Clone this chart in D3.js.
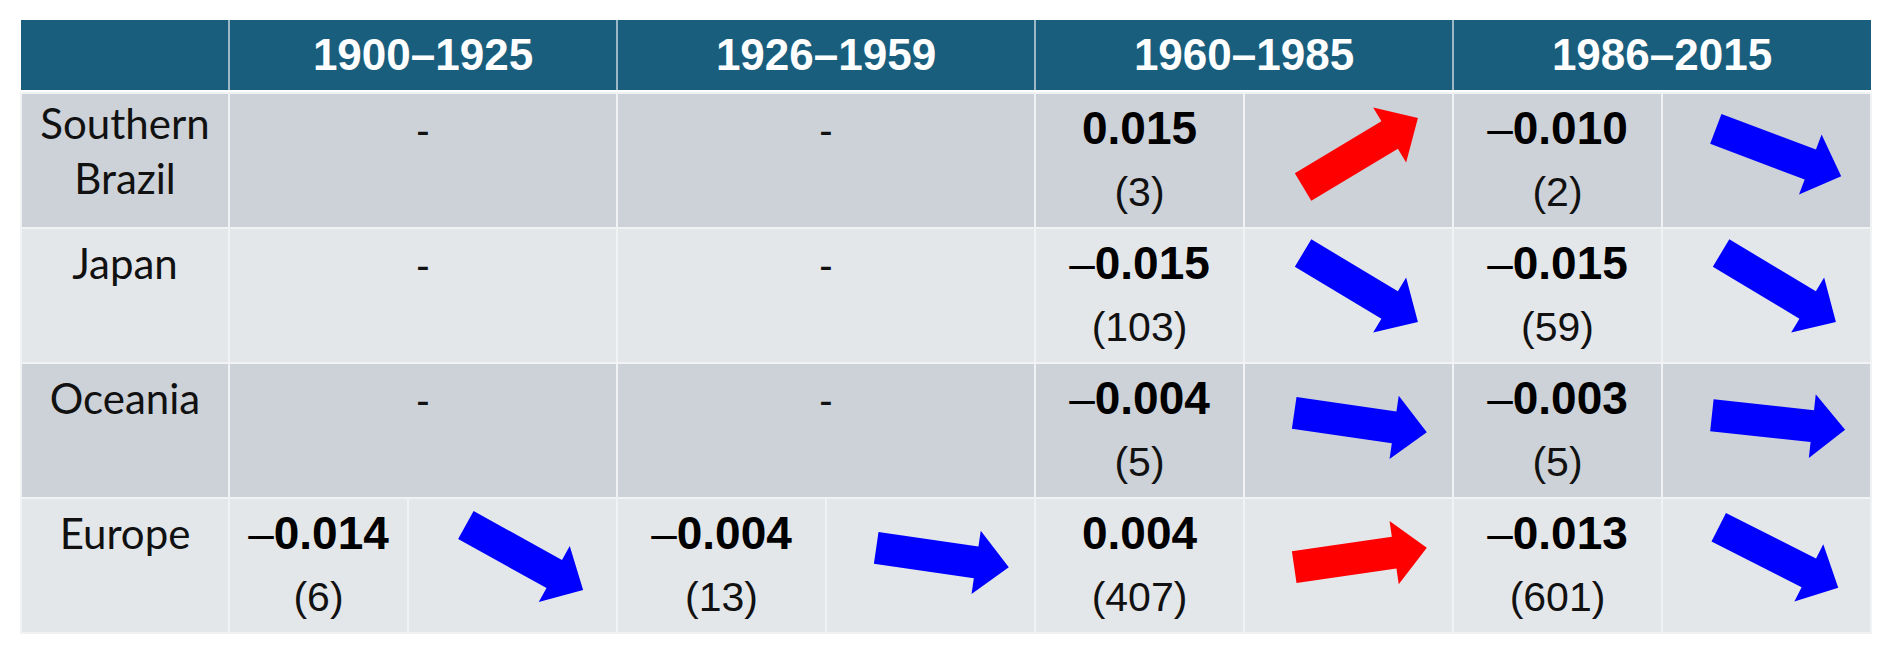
<!DOCTYPE html>
<html>
<head>
<meta charset="utf-8">
<script src="https://cdn.jsdelivr.net/npm/d3@7"></script>
<style>
    body { margin: 0; background: #fff; }
    svg { display: block; }
</style>
</head>
<body>
<svg id="chart" width="1892" height="653"></svg>
<script>
'use strict';

var periods = ['1900–1925', '1926–1959', '1960–1985', '1986–2015'];
var regions = ['Southern Brazil', 'Japan', 'Oceania', 'Europe'];

// trend per period (null = no data) and number of series in brackets
var southernBrazilTrend = [null, null, 0.015, -0.010];
var southernBrazilCount = [null, null, 3, 2];
var japanTrend = [null, null, -0.015, -0.015];
var japanCount = [null, null, 103, 59];
var oceaniaTrend = [null, null, -0.004, -0.003];
var oceaniaCount = [null, null, 5, 5];
var europeTrend = [-0.014, -0.004, 0.004, -0.013];
var europeCount = [6, 13, 407, 601];

var trends = [southernBrazilTrend, japanTrend, oceaniaTrend, europeTrend];
var counts = [southernBrazilCount, japanCount, oceaniaCount, europeCount];

(function() {

    var svg = d3.select('#chart');

    var tableLeft = 21;
    var tableRight = 1871;
    var labelRight = 229;
    var headerTop = 20;
    var headerBottom = 90;
    var arrowCellWidth = 209;

    var headerColor = '#1a5e7e';
    var rowColors = ['#cdd1d8', '#e4e7ea'];
    var lineColor = '#f1f2f4';

    var numFont = '"Liberation Sans", Arial, sans-serif';
    var labelFont = 'Lato, "Open Sans", sans-serif';

    // column edges: first period column is narrower than the others
    var colEdges = [labelRight, 617, 1035, 1453, tableRight];

    var x = d3.scaleOrdinal()
        .domain(periods)
        .range(colEdges.slice(0, 4));

    var colWidth = function(p) {
        var i = periods.indexOf(p);
        return colEdges[i + 1] - colEdges[i];
    };

    var y = d3.scaleBand()
        .domain(regions)
        .range([93, 633]);

    var angle = d3.scaleLinear()
        .domain([-0.015, 0.015])
        .range([31, -31]);

    var formatTrend = d3.format('.3f');

    // ---- header ----
    svg.append('rect')
        .attr('x', tableLeft)
        .attr('y', headerTop)
        .attr('width', tableRight - tableLeft)
        .attr('height', headerBottom - headerTop)
        .attr('fill', headerColor);

    svg.selectAll('.head-sep')
        .data(periods)
        .enter().append('line')
        .attr('class', 'head-sep')
        .attr('x1', function(d) { return x(d); })
        .attr('x2', function(d) { return x(d); })
        .attr('y1', headerTop)
        .attr('y2', headerBottom)
        .attr('stroke', '#c9d6de')
        .attr('stroke-width', 1.5);

    svg.selectAll('.head-text')
        .data(periods)
        .enter().append('text')
        .attr('class', 'head-text')
        .attr('x', function(d) { return x(d) + colWidth(d) / 2; })
        .attr('y', 70)
        .attr('text-anchor', 'middle')
        .attr('font-family', numFont)
        .attr('font-weight', 'bold')
        .attr('font-size', 44)
        .attr('fill', '#fff')
        .text(function(d) { return d; });

    // ---- rows ----
    var arrowPath = function() {
        var L = 67, sw = 16, hw = 32, hb = 34;
        return d3.line()([
            [-L, -sw], [hb, -sw], [hb, -hw], [L, 0],
            [hb, hw], [hb, sw], [-L, sw]
        ]) + 'Z';
    };

    regions.forEach(function(region, ri) {

        var top = y(region);
        var h = y.bandwidth();
        var fill = rowColors[ri % 2];

        var row = svg.append('g').attr('class', 'row');

        row.append('rect')
            .attr('x', tableLeft)
            .attr('y', top)
            .attr('width', labelRight - tableLeft)
            .attr('height', h)
            .attr('fill', fill)
            .attr('stroke', lineColor)
            .attr('stroke-width', 2);

        var words = region === 'Southern Brazil' ? ['Southern', 'Brazil'] : [region];
        var label = row.append('text')
            .attr('text-anchor', 'middle')
            .attr('font-family', labelFont)
            .attr('font-size', 42)
            .attr('fill', '#111');

        words.forEach(function(w, wi) {
            label.append('tspan')
                .attr('x', (tableLeft + labelRight) / 2)
                .attr('y', top + (words.length > 1 ? 46 : 51) + wi * 55)
                .text(w);
        });

        periods.forEach(function(p, pi) {

            var left = x(p);
            var w = colWidth(p);
            var value = trends[ri][pi];

            if (null === value) {
                row.append('rect')
                    .attr('x', left)
                    .attr('y', top)
                    .attr('width', w)
                    .attr('height', h)
                    .attr('fill', fill)
                    .attr('stroke', lineColor)
                    .attr('stroke-width', 2);

                row.append('text')
                    .attr('x', left + w / 2)
                    .attr('y', top + 51)
                    .attr('text-anchor', 'middle')
                    .attr('font-family', numFont)
                    .attr('font-size', 40)
                    .attr('fill', '#111')
                    .text('-');
                return;
            }

            var split = left + w - arrowCellWidth;

            row.append('rect')
                .attr('x', left)
                .attr('y', top)
                .attr('width', split - left)
                .attr('height', h)
                .attr('fill', fill)
                .attr('stroke', lineColor)
                .attr('stroke-width', 2);

            row.append('rect')
                .attr('x', split)
                .attr('y', top)
                .attr('width', arrowCellWidth)
                .attr('height', h)
                .attr('fill', fill)
                .attr('stroke', lineColor)
                .attr('stroke-width', 2);

            var cx = (left + split) / 2;

            var num = row.append('text')
                .attr('x', cx)
                .attr('y', top + 51)
                .attr('text-anchor', 'middle')
                .attr('font-family', numFont)
                .attr('font-size', 46)
                .attr('fill', '#000');

            if (value < 0) {
                num.append('tspan').attr('font-weight', 'normal').text('–');
            }
            num.append('tspan')
                .attr('font-weight', 'bold')
                .text(formatTrend(Math.abs(value)));

            row.append('text')
                .attr('x', cx)
                .attr('y', top + 113)
                .attr('text-anchor', 'middle')
                .attr('font-family', numFont)
                .attr('font-size', 41)
                .attr('fill', '#111')
                .text('(' + counts[ri][pi] + ')');

            row.append('path')
                .attr('d', arrowPath())
                .attr('fill', value > 0 ? '#ff0000' : '#0000ff')
                .attr('transform', 'translate(' + (split + arrowCellWidth / 2 + 12) + ',' +
                    (top + h / 2 - 8) + ') rotate(' + angle(value) + ')');
        });
    });

})();
</script>
</body>
</html>
